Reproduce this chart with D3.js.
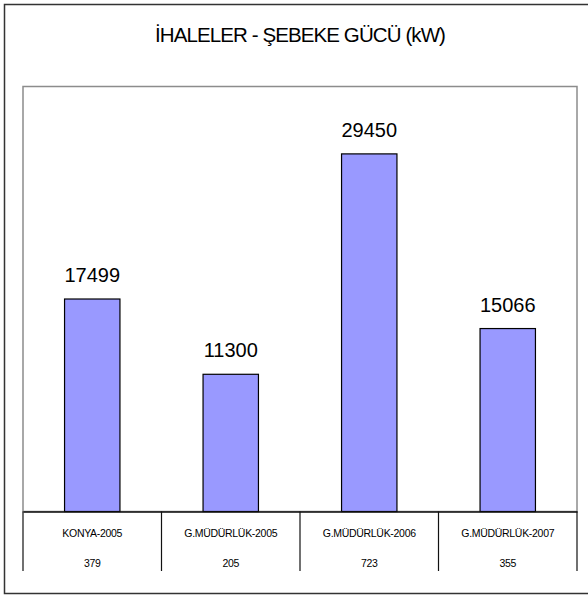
<!DOCTYPE html>
<html>
<head>
<meta charset="utf-8">
<script src="https://cdn.jsdelivr.net/npm/d3@7"></script>
<style>
  html, body { margin: 0; padding: 0; background: #fff; }
  svg { display: block; }
  text { font-family: "Liberation Sans", Arial, sans-serif; fill: #000; }
</style>
</head>
<body>
<svg id="chart" width="588" height="595"></svg>
<script>
// Tender records: grid power per year/region
const categories = ["KONYA-2005", "G.MÜDÜRLÜK-2005", "G.MÜDÜRLÜK-2006", "G.MÜDÜRLÜK-2007"];
const powerKW = [17499, 11300, 29450, 15066];
const tenderCounts = [379, 205, 723, 355];
const yMax = 35000;
const title = "İHALELER - ŞEBEKE GÜCÜ (kW)";

const svg = d3.select("#chart");

// chart frame
svg.append("rect")
  .attr("x", 4.5).attr("y", 4.5)
  .attr("width", 590).attr("height", 589)
  .attr("fill", "#fff")
  .attr("stroke", "#333").attr("stroke-width", 1.5);

const plot = { left: 23, right: 577, top: 86.5, bottom: 511.5 };

const x = d3.scaleBand()
  .domain(categories)
  .range([plot.left, plot.right])
  .paddingInner(0).paddingOuter(0);

const y = d3.scaleLinear()
  .domain([0, yMax])
  .range([plot.bottom, plot.top]);

// plot area outline
svg.append("rect")
  .attr("x", plot.left).attr("y", plot.top)
  .attr("width", plot.right - plot.left).attr("height", plot.bottom - plot.top)
  .attr("fill", "none")
  .attr("stroke", "#8c8c8c").attr("stroke-width", 1.5);

// title
svg.append("text")
  .attr("x", 300).attr("y", 41.5)
  .attr("text-anchor", "middle")
  .attr("font-size", 20.5)
  .attr("letter-spacing", -0.9)
  .text(title);

// bars
const barW = x.bandwidth() / 2.5;
const bars = categories.map((c, i) => ({ c, v: powerKW[i] }));

svg.selectAll("rect.bar")
  .data(bars)
  .join("rect")
  .attr("class", "bar")
  .attr("x", d => x(d.c) + (x.bandwidth() - barW) / 2)
  .attr("y", d => y(d.v))
  .attr("width", barW)
  .attr("height", d => y(0) - y(d.v))
  .attr("fill", "#9999ff")
  .attr("stroke", "#000").attr("stroke-width", 1.2);

// value labels
svg.selectAll("text.val")
  .data(bars)
  .join("text")
  .attr("class", "val")
  .attr("x", d => x(d.c) + x.bandwidth() / 2)
  .attr("y", d => y(d.v) - 17)
  .attr("text-anchor", "middle")
  .attr("font-size", 20)
  .text(d => d.v);

// data table under the axis
const tableBottom = 571;
const axis = d3.axisBottom(x).tickSize(0).tickFormat("");
svg.append("g")
  .attr("transform", `translate(0,${plot.bottom})`)
  .call(axis)
  .call(g => g.select(".domain").attr("stroke", "#111").attr("stroke-width", 1.3));

const edges = categories.map(c => x(c)).concat([x.range()[1]]);
svg.selectAll("line.div")
  .data(edges)
  .join("line")
  .attr("class", "div")
  .attr("x1", d => d).attr("x2", d => d)
  .attr("y1", plot.bottom).attr("y2", tableBottom)
  .attr("stroke", "#111").attr("stroke-width", 1.2);

svg.selectAll("text.cat")
  .data(categories)
  .join("text")
  .attr("class", "cat")
  .attr("x", d => x(d) + x.bandwidth() / 2)
  .attr("y", 537)
  .attr("text-anchor", "middle")
  .attr("font-size", 10.5)
  .attr("letter-spacing", -0.3)
  .text(d => d);

svg.selectAll("text.cnt")
  .data(tenderCounts)
  .join("text")
  .attr("class", "cnt")
  .attr("x", (d, i) => x(categories[i]) + x.bandwidth() / 2)
  .attr("y", 566.5)
  .attr("text-anchor", "middle")
  .attr("font-size", 10.5)
  .attr("letter-spacing", -0.3)
  .text(d => d);
</script>
</body>
</html>
